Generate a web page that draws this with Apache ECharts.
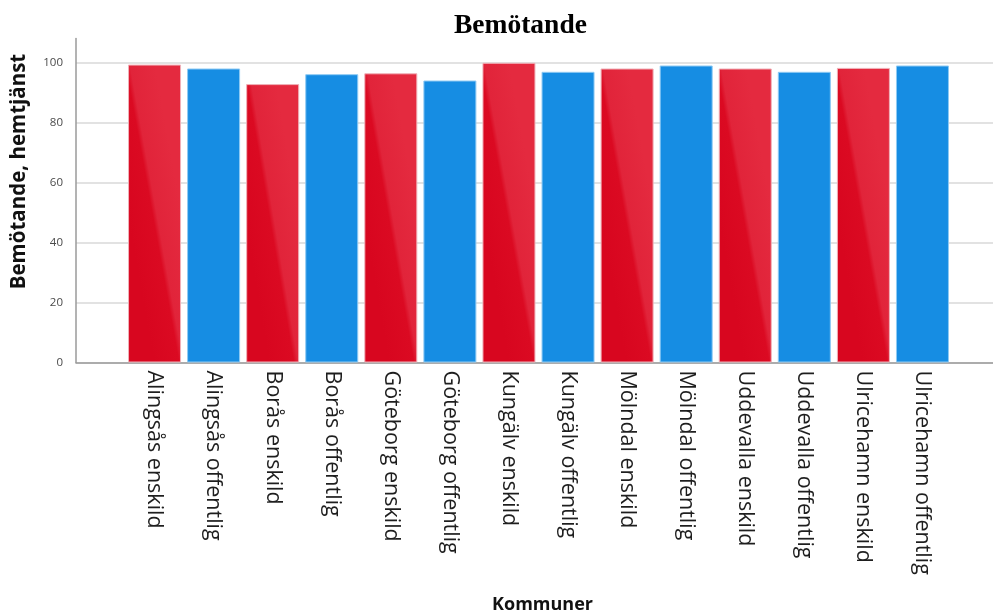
<!DOCTYPE html>
<html>
<head>
<meta charset="utf-8">
<title>Bemötande</title>
<script src="https://cdn.jsdelivr.net/npm/echarts@6/dist/echarts.min.js"></script>
<style>
  html, body { margin: 0; padding: 0; background: #ffffff; }
  #chart { width: 993px; height: 611px; }
</style>
</head>
<body>
<div id="chart"></div>
<script>
// Kommuner, each split into private (enskild) and public (offentlig) home care
const categories = [
  'Alingsås enskild', 'Alingsås offentlig',
  'Borås enskild', 'Borås offentlig',
  'Göteborg enskild', 'Göteborg offentlig',
  'Kungälv enskild', 'Kungälv offentlig',
  'Mölndal enskild', 'Mölndal offentlig',
  'Uddevalla enskild', 'Uddevalla offentlig',
  'Ulricehamn enskild', 'Ulricehamn offentlig'
];
// Bemötande score per group
const values = [99.3, 98.0, 92.8, 96.1, 96.4, 94.0, 99.9, 96.9, 98.0, 99.0, 98.0, 96.9, 98.2, 99.0];
// Y axis tick labels
const yTicks = [0, 20, 40, 60, 80, 100];

const Y_MAX = 108;
const FONT = '"Open Sans", "DejaVu Sans", sans-serif';

// Red bars carry a diagonal shade: darker lower-left triangle, lighter upper-right
const redFill = {
  type: 'linear', x: 0, y: 0.516, x2: 1, y2: 0.484,
  colorStops: [
    { offset: 0, color: '#d8061f' },
    { offset: 0.46, color: '#db0a22' },
    { offset: 0.54, color: '#e1243a' },
    { offset: 1, color: '#e42a3f' }
  ]
};
const blueFill = '#168de3';

const barData = categories.map((name, i) => {
  const isPrivate = name.endsWith('enskild');
  return {
    value: values[i],
    itemStyle: isPrivate
      ? { color: redFill, borderColor: '#efb1b8', borderWidth: 1 }
      : { color: blueFill, borderColor: '#8fcaf3', borderWidth: 1 }
  };
});

const chart = echarts.init(document.getElementById('chart'), null, { renderer: 'canvas' });

chart.setOption({
  animation: false,
  backgroundColor: '#ffffff',
  title: {
    text: 'Bemötande',
    left: 449,
    top: 7,
    textStyle: {
      fontFamily: '"Liberation Serif", "Times New Roman", serif',
      fontWeight: 'bold',
      fontSize: 27.5,
      color: '#000000'
    }
  },
  grid: [
    // frame: value axis, gridlines and baseline
    { left: 76, right: 0, top: 38.5, bottom: 248.5, outerBoundsMode: 'none', containLabel: false },
    // bars and category labels
    { left: 125, right: 41, top: 38.5, bottom: 248.5, outerBoundsMode: 'none', containLabel: false }
  ],
  xAxis: [
    {
      gridIndex: 0,
      type: 'value',
      min: 0, max: 1,
      axisLine: { show: true, onZero: false, lineStyle: { color: '#9a9a9a', width: 1.5 } },
      axisTick: { show: false },
      axisLabel: { show: false },
      splitLine: { show: false }
    },
    {
      gridIndex: 1,
      type: 'category',
      data: categories,
      axisLine: { show: false },
      axisTick: { show: false },
      axisLabel: {
        rotate: -90,
        margin: 8,
        fontFamily: FONT,
        fontSize: 21.5,
        color: '#1e1e1e',
        interval: 0
      },
      name: 'Kommuner',
      nameLocation: 'middle',
      nameGap: 233,
      nameTextStyle: {
        fontFamily: FONT,
        fontWeight: 'bold',
        fontSize: 18,
        color: '#111111',
        padding: [0, 0, 0, 8]
      }
    }
  ],
  yAxis: [
    {
      gridIndex: 0,
      type: 'value',
      min: 0,
      max: Y_MAX,
      interval: 20,
      axisLine: { show: true, lineStyle: { color: '#9a9a9a', width: 1.5 } },
      axisTick: { show: false },
      axisLabel: {
        margin: 13,
        fontFamily: FONT,
        fontSize: 11.5,
        color: '#4a4a4a',
        formatter: v => (yTicks.includes(v) ? String(v) : '')
      },
      splitLine: { show: true, showMaxLine: false, lineStyle: { color: '#d8d8d8', width: 1.5 } },
      name: 'Bemötande, hemtjänst',
      nameLocation: 'middle',
      nameGap: 46,
      nameTextStyle: {
        fontFamily: FONT,
        fontWeight: 'bold',
        fontSize: 20.5,
        color: '#111111',
        padding: [0, 0, 0, 58]
      }
    },
    {
      gridIndex: 1,
      type: 'value',
      min: 0,
      max: Y_MAX,
      show: false,
      splitLine: { show: false }
    }
  ],
  series: [
    {
      type: 'bar',
      xAxisIndex: 1,
      yAxisIndex: 1,
      barWidth: 53,
      data: barData
    }
  ]
});
</script>
</body>
</html>
